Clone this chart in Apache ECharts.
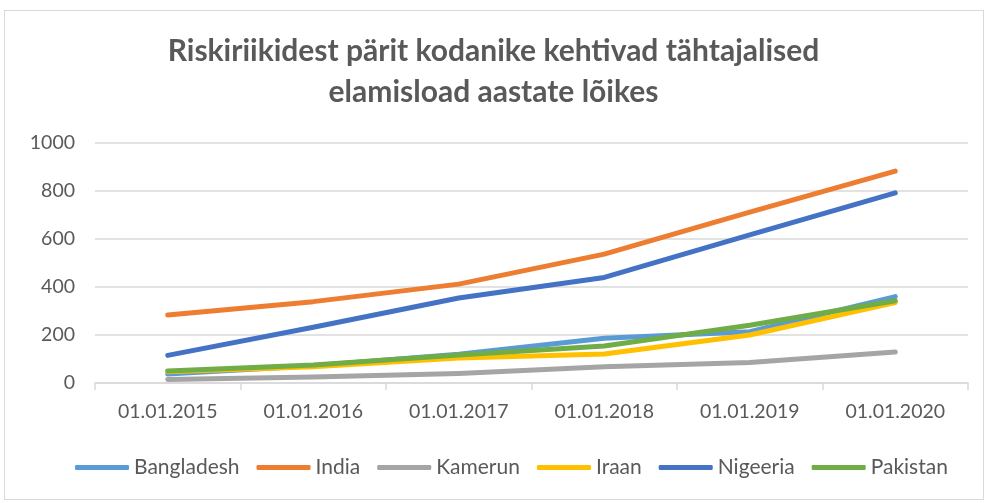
<!DOCTYPE html>
<html>
<head>
<meta charset="utf-8">
<script src="https://cdn.jsdelivr.net/npm/echarts@6/dist/echarts.min.js"></script>
<style>
  html, body { margin: 0; padding: 0; background: #fff; }
  #frame { position: absolute; left: 4px; top: 10px; width: 980px; height: 490px; border: 1px solid #d9d9d9; box-sizing: border-box; }
  #chart { position: absolute; left: 0; top: 0; width: 987px; height: 503px; }
</style>
</head>
<body>
<div id="frame"></div>
<div id="chart"></div>
<script>
// Categories and series values
const dates = ['01.01.2015', '01.01.2016', '01.01.2017', '01.01.2018', '01.01.2019', '01.01.2020'];
const bangladesh = [37, 72, 120, 186, 214, 360];
const india = [283, 339, 412, 537, 712, 883];
const kamerun = [15, 25, 40, 68, 85, 129];
const iraan = [47, 68, 104, 121, 200, 335];
const nigeeria = [115, 232, 354, 440, 617, 792];
const pakistan = [50, 75, 117, 154, 241, 343];

const seriesList = [
    { name: 'Bangladesh', data: bangladesh, color: '#5B9BD5' },
    { name: 'India', data: india, color: '#ED7D31' },
    { name: 'Kamerun', data: kamerun, color: '#A5A5A5' },
    { name: 'Iraan', data: iraan, color: '#FFC000' },
    { name: 'Nigeeria', data: nigeeria, color: '#4472C4' },
    { name: 'Pakistan', data: pakistan, color: '#70AD47' }
];

document.addEventListener('DOMContentLoaded', function() {
    const chart = echarts.init(document.getElementById('chart'));
    const font = 'Lato, "Open Sans", sans-serif';

    const option = {
        animation: false,
        textStyle: { fontFamily: font },
        title: {
            text: 'Riskiriikidest pärit kodanike kehtivad tähtajalised\nelamisload aastate lõikes',
            left: 'center',
            top: 26,
            textStyle: {
                fontFamily: font,
                fontSize: 30,
                fontWeight: 'bold',
                color: '#595959',
                lineHeight: 41
            }
        },
        legend: {
            bottom: 20,
            left: 70,
            icon: 'roundRect',
            itemWidth: 54,
            itemHeight: 5,
            itemGap: 17,
            textStyle: { fontSize: 21, color: '#595959', fontFamily: font },
            data: seriesList.map(s => s.name)
        },
        grid: {
            left: 95,
            right: 19,
            top: 143,
            bottom: 120
        },
        xAxis: {
            type: 'category',
            data: dates,
            boundaryGap: true,
            axisLine: { lineStyle: { color: '#d9d9d9', width: 1.5 } },
            axisTick: { show: true, length: 7, lineStyle: { color: '#d9d9d9', width: 1.5 } },
            axisLabel: { fontSize: 19.5, color: '#595959', margin: 19 }
        },
        yAxis: {
            type: 'value',
            min: 0,
            max: 1000,
            interval: 200,
            axisLine: { show: false },
            axisTick: { show: false },
            axisLabel: { fontSize: 19.5, color: '#595959', margin: 20, formatter: v => String(v) },
            splitLine: { lineStyle: { color: '#d9d9d9', width: 1.5 } }
        },
        series: seriesList.map(s => ({
            name: s.name,
            type: 'line',
            data: s.data,
            showSymbol: false,
            symbol: 'none',
            color: s.color,
            lineStyle: { width: 5, color: s.color, cap: 'round', join: 'round' }
        }))
    };

    chart.setOption(option);
});
</script>
</body>
</html>
